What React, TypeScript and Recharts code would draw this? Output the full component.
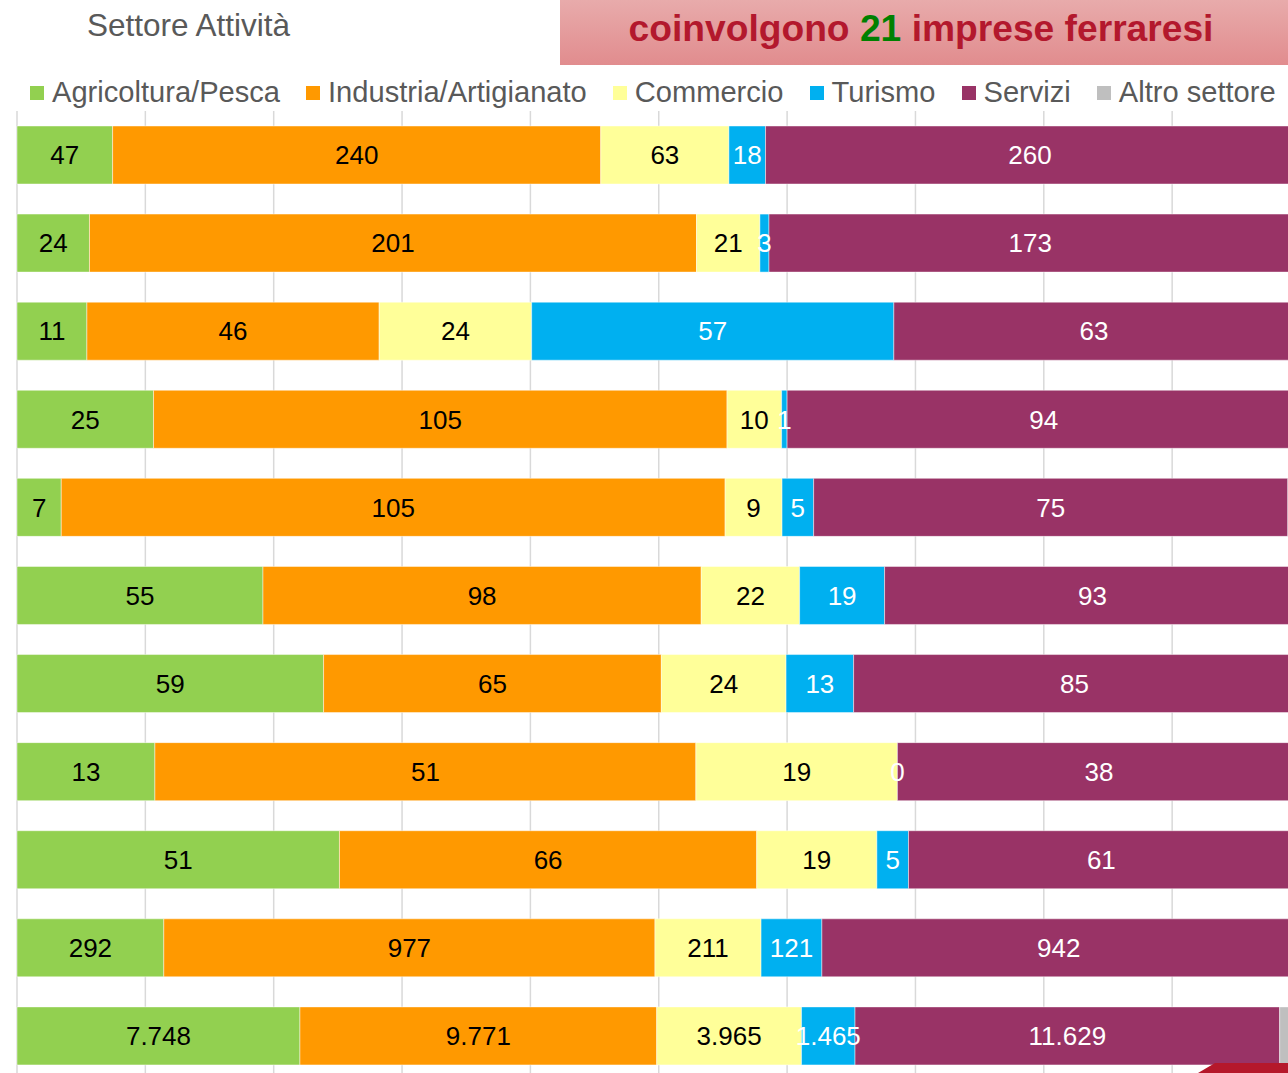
import React from 'react';
import { BarChart, Bar, XAxis, YAxis, CartesianGrid, LabelList } from 'recharts';

// rows top to bottom (row names are cut off in the source image)
const categories = ['1', '2', '3', '4', '5', '6', '7', '8', '9', '10', '11'];

const agricoltura = [47, 24, 11, 25, 7, 55, 59, 13, 51, 292, 7748];
const industria = [240, 201, 46, 105, 105, 98, 65, 51, 66, 977, 9771];
const commercio = [63, 21, 24, 10, 9, 22, 24, 19, 19, 211, 3965];
const turismo = [18, 3, 57, 1, 5, 19, 13, 0, 5, 121, 1465];
const servizi = [260, 173, 63, 94, 75, 93, 85, 38, 61, 942, 11629];
const altro = [3, 3, 1, 0, 2, 0, 1, 0, 1, 10, 570];

const xTicks = [0, 0.1, 0.2, 0.3, 0.4, 0.5, 0.6, 0.7, 0.8, 0.9, 1];

const SERIES = [
  { key: 'agricoltura', name: 'Agricoltura/Pesca', color: '#92d050', text: '#000000', label: true },
  { key: 'industria', name: 'Industria/Artigianato', color: '#ff9900', text: '#000000', label: true },
  { key: 'commercio', name: 'Commercio', color: '#ffff99', text: '#000000', label: true },
  { key: 'turismo', name: 'Turismo', color: '#00b0f0', text: '#ffffff', label: true },
  { key: 'servizi', name: 'Servizi', color: '#993366', text: '#ffffff', label: true },
  { key: 'altro', name: 'Altro settore', color: '#bfbfbf', text: '#000000', label: false },
];

const data = categories.map((c, i) => ({
  name: c,
  agricoltura: agricoltura[i],
  industria: industria[i],
  commercio: commercio[i],
  turismo: turismo[i],
  servizi: servizi[i],
  altro: altro[i],
}));

// Italian thousands separator
function formatIt(v: number): string {
  return String(v).replace(/\B(?=(\d{3})+(?!\d))/g, '.');
}

const FONT = '"Liberation Sans", Arial, sans-serif';

// a zero-width Turismo bar gets no label of its own, so draw its "0" at the start of Servizi
function ZeroTurismoLabel(props: any) {
  const vb = props.viewBox || props;
  const i = props.index;
  if (i == null || turismo[i] !== 0) return null;
  return (
    <text
      x={vb.x}
      y={vb.y + vb.height / 2}
      textAnchor="middle"
      dominantBaseline="central"
      fill="#ffffff"
      fontSize={26}
      fontFamily={FONT}
    >
      {formatIt(turismo[i])}
    </text>
  );
}

export default function App() {
  return (
    <div
      style={{
        position: 'fixed',
        left: 0,
        top: 0,
        width: 1288,
        height: 1073,
        overflow: 'hidden',
        background: '#ffffff',
        fontFamily: FONT,
      }}
    >
      {/* section title */}
      <div style={{ position: 'absolute', left: 87, top: 7, fontSize: 31.5, color: '#595959' }}>
        Settore Attività
      </div>

      {/* banner */}
      <div
        style={{
          position: 'absolute',
          left: 560,
          top: 0,
          width: 740,
          height: 65,
          background: 'linear-gradient(#e8abab, #e18c8e)',
        }}
      >
        <div
          style={{
            position: 'absolute',
            left: 0,
            width: 722,
            top: 7,
            textAlign: 'center',
            fontSize: 37.2,
            fontWeight: 'bold',
            color: '#b3182d',
            whiteSpace: 'nowrap',
          }}
        >
          coinvolgono <span style={{ color: '#008000' }}>21</span> imprese ferraresi
        </div>
      </div>

      {/* legend */}
      <div
        style={{
          position: 'absolute',
          left: 30,
          top: 76,
          display: 'flex',
          alignItems: 'center',
          gap: 26,
          fontSize: 29.1,
          color: '#595959',
          whiteSpace: 'nowrap',
        }}
      >
        {SERIES.map((s) => (
          <div key={s.key} style={{ display: 'flex', alignItems: 'center', gap: 8 }}>
            <span style={{ display: 'inline-block', width: 14, height: 14, background: s.color }} />
            <span>{s.name}</span>
          </div>
        ))}
      </div>

      <BarChart
        width={1310}
        height={1090}
        data={data}
        layout="vertical"
        stackOffset="expand"
        barSize={58}
        margin={{ top: 111, right: 9.5, bottom: 10, left: 17 }}
        style={{ position: 'absolute', left: 0, top: 0 }}
      >
        <CartesianGrid horizontal={false} stroke="#d9d9d9" strokeWidth={1.5} />
        <XAxis type="number" domain={[0, 1]} ticks={xTicks} hide />
        <YAxis type="category" dataKey="name" hide />
        {SERIES.map((s) => (
          <Bar
            key={s.key}
            dataKey={s.key}
            name={s.name}
            stackId="a"
            fill={s.color}
            stroke="#ffffff"
            strokeOpacity={0.45}
            strokeWidth={1}
            isAnimationActive={false}
          >
            {s.label && (
              <LabelList
                dataKey={s.key}
                position="center"
                fill={s.text}
                fontSize={26}
                fontFamily={FONT}
                formatter={(v: any) => formatIt(Number(v))}
              />
            )}
            {s.key === 'servizi' && <LabelList dataKey="turismo" content={ZeroTurismoLabel} />}
          </Bar>
        ))}
      </BarChart>

      {/* corner decoration */}
      <svg style={{ position: 'absolute', left: 0, top: 0 }} width={1288} height={1073}>
        <polygon points="1198,1073 1215,1063 1288,1063 1288,1073" fill="#b5182b" />
      </svg>
    </div>
  );
}
